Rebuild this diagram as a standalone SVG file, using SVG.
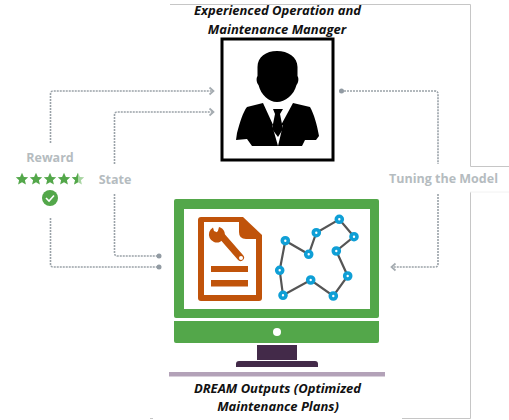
<svg xmlns="http://www.w3.org/2000/svg" width="509" height="420" viewBox="0 0 509 420">
<defs>
<style>
.frame{fill:none;stroke:#c6c6c6;stroke-width:1}
.dash{fill:none;stroke:#9aa2a8;stroke-width:1.6;stroke-dasharray:2 1}
.head{fill:none;stroke:#a4abb0;stroke-width:1.7}
.dot{fill:#929ba3}
.title{font-family:"Open Sans","Liberation Sans",sans-serif;font-weight:700;font-style:italic;font-size:13px;fill:#111;text-anchor:middle}
.lab{font-family:"Open Sans","Liberation Sans",sans-serif;font-weight:700;font-size:12.500px;fill:#b5bcc0;text-anchor:middle}
.green{fill:#53a74a}
.star{fill:#53a74a}
.n{fill:#fff;stroke:#0f9fd6;stroke-width:3.600}
</style>
<path id="s" d="M0-6.200 1.900-2.100 6.200-1.700 2.900 1.200 3.900 5.500 0 3.200-3.900 5.500-2.900 1.200-6.200-1.700-1.900-2.100Z"/>
</defs>
<g id="frame">
<path class="frame" d="M170 4.500H470.500V166.500H509"/>
<path class="frame" d="M402 418.500H470.500V192"/>
<path d="M470 192H509" fill="none" stroke="#f2f2f2"/>
<path d="M150 418.500H153" class="frame"/>
</g>
<g id="connectors">
<path class="dash" d="M50.500 143V94Q50.500 91 53.500 91H213"/>
<path class="head" d="M209.500 87.500 213.500 91 209.500 94.500"/>
<path class="dash" d="M114.500 164V115Q114.500 112 117.500 112H213"/>
<path class="head" d="M209.500 108.500 213.500 112 209.500 115.500"/>
<path class="dash" d="M50.500 218V264Q50.500 267 53.500 267H159"/>
<circle class="dot" cx="159" cy="267" r="2.500"/>
<path class="dash" d="M114.500 194V253Q114.500 256 117.500 256H159"/>
<circle class="dot" cx="159" cy="256" r="2.500"/>
<path class="dash" d="M341 91H435Q438 91 438 94V164"/>
<circle class="dot" cx="341.500" cy="91" r="2.500"/>
<path class="dash" d="M438 194V264Q438 267 435 267H392"/>
<path class="head" d="M395.500 263.500 391.500 267 395.500 270.500"/>
</g>
<g id="manager">
<text class="title" x="277.500" y="15">Experienced Operation and</text>
<text class="title" x="277" y="34">Maintenance Manager</text>
<rect x="222" y="39" width="111" height="121" fill="#fff" stroke="#000" stroke-width="3"/>
<path d="M277 51C266 51 257.500 57 257.500 67V76C256 78 256.500 83 258.500 85C261 95 269 102 277 102C285 102 294 95 296.500 85C298.500 83 299 78 297.500 76V67C297.500 57 288 51 277 51Z"/>
<path d="M263 103 247 107C243 112 240 122 237 133L236 140 247 139 252 146H302L305 140 316 140 319 136C317 125 314 114 310 107L293 103 280 127 283 125 278 146 272 125 274 127Z"/>
<path d="M273 109H283L280 114 283 129 278 137 272 129 275 114Z"/>
</g>
<g id="reward">
<text class="lab" x="50" y="162">Reward</text>
<g class="star">
<use href="#s" x="22" y="179"/>
<use href="#s" x="36" y="179"/>
<use href="#s" x="50" y="179"/>
<use href="#s" x="64" y="179"/>
<use href="#s" x="78" y="179" fill="#a8d5a2"/>
<path d="M78 172.800 76.100 176.900 71.800 177.300 75.100 180.200 74.100 184.500 78 182.200Z"/>
</g>
<circle class="green" cx="50" cy="198" r="8"/>
<path d="M46 198 49 201 54 195.500" fill="none" stroke="#fff" stroke-width="1.600"/>
</g>
<g id="state"><text class="lab" x="115" y="184">State</text></g>
<g id="tuning"><text class="lab" x="443.500" y="183">Tuning the Model</text></g>
<g id="dream">
<rect class="green" x="174" y="199" width="205" height="119" rx="2"/>
<rect x="184" y="209" width="186" height="100" fill="#fff"/>
<path class="green" d="M174 321H379V341Q379 343 377 343H176Q174 343 174 341Z"/>
<circle cx="277" cy="332" r="4" fill="#fff"/>
<rect x="257" y="345" width="40" height="15" fill="#432a49"/>
<path d="M236 367V364Q236 361 239 361H315Q318 361 318 364V367Z" fill="#432a49"/>
<rect x="169" y="372" width="216" height="4.500" fill="#b3a2b8"/>
<path d="M201 217H243L262 235V298Q262 301 259 301H201Q198 301 198 298V220Q198 217 201 217Z" fill="#c0530a"/>
<path d="M204 222H239V232Q239 239 246 239H256V295H204Z" fill="#fff"/>
<path d="M220 234 240.500 257.500" fill="none" stroke="#c0530a" stroke-width="7" stroke-linecap="round"/>
<path d="M213 227.500A8 8 0 1 0 224.500 232A8 8 0 0 0 219 227L217.500 232.500 214 231Z" fill="#c0530a"/>
<circle cx="241" cy="258" r="2" fill="#fff"/>
<rect x="211" y="266" width="37" height="6" fill="#c0530a"/>
<rect x="211" y="280" width="37" height="6.500" fill="#c0530a"/>
<path d="M285.300 240.700 308.700 254.300 316.300 232.700 339.300 219.300 354 236.700 336.300 251 347.700 276 333.300 296 310.700 280 283 295.300 279.700 270.300Z" fill="none" stroke="#555" stroke-width="2.200"/>
<g>
<circle class="n" cx="285.300" cy="240.700" r="3"/>
<circle class="n" cx="308.700" cy="254.300" r="3"/>
<circle class="n" cx="316.300" cy="232.700" r="3"/>
<circle class="n" cx="339.300" cy="219.300" r="3"/>
<circle class="n" cx="354" cy="236.700" r="3"/>
<circle class="n" cx="336.300" cy="251" r="3"/>
<circle class="n" cx="347.700" cy="276" r="3"/>
<circle class="n" cx="333.300" cy="296" r="3"/>
<circle class="n" cx="310.700" cy="280" r="3"/>
<circle class="n" cx="283" cy="295.300" r="3"/>
<circle class="n" cx="279.700" cy="270.300" r="3"/>
</g>
<text class="title" x="277.500" y="393">DREAM Outputs (Optimized</text>
<text class="title" x="278" y="411">Maintenance Plans)</text>
</g>
</svg>
